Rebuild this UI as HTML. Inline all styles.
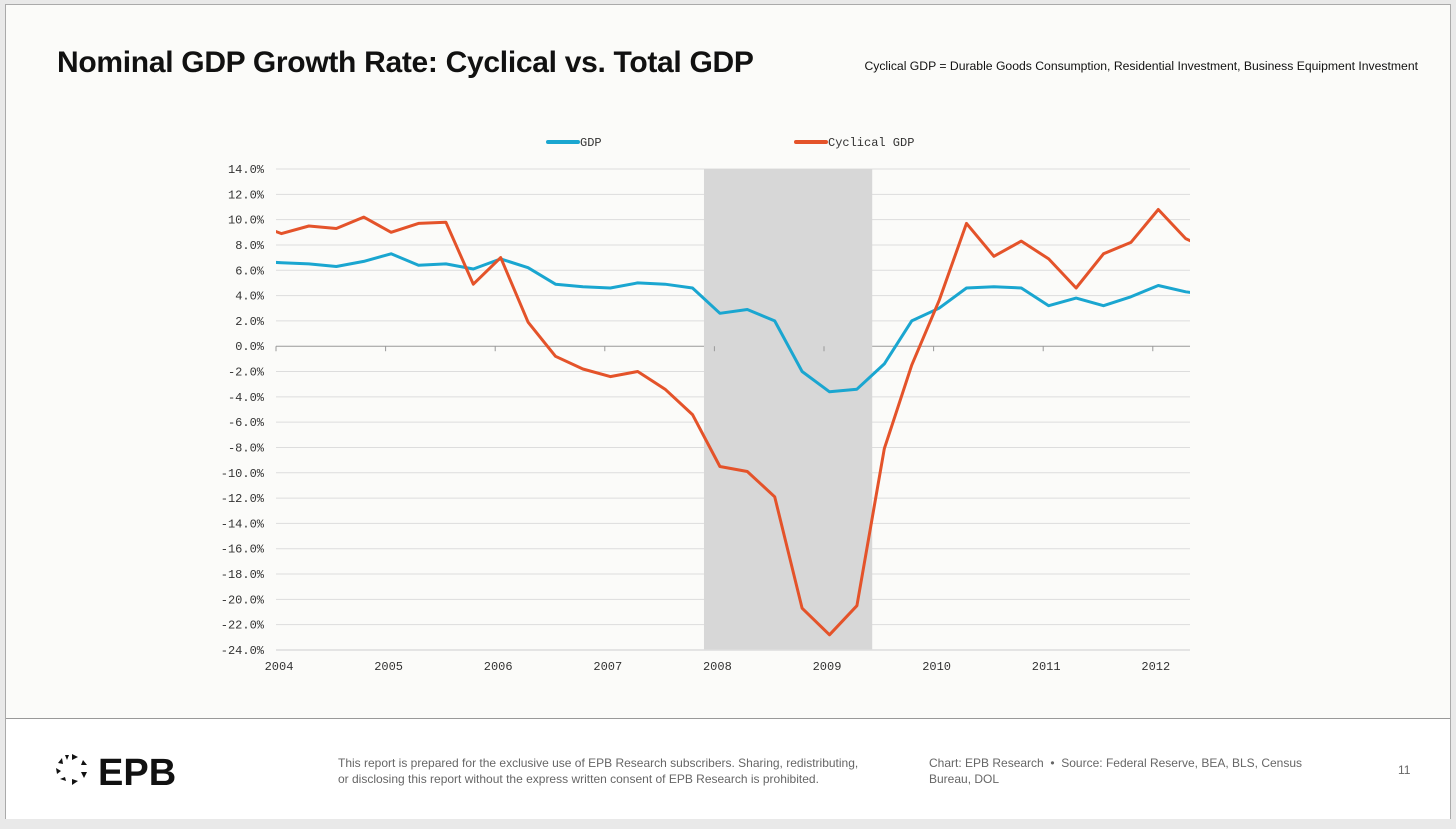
<!DOCTYPE html>
<html><head><meta charset="utf-8">
<style>
html,body{margin:0;padding:0;width:1456px;height:829px;background:#e9e9e9;overflow:hidden;font-family:"Liberation Sans",sans-serif}
#card{position:absolute;left:5px;top:4px;width:1444px;height:813px;background:#fbfbf9;border:1px solid #aaa}
#footer{position:absolute;left:0;top:713px;width:1444px;height:100px;background:#fff;border-top:1px solid #999}
h1{position:absolute;left:51px;top:41px;margin:0;font-size:30px;font-weight:bold;letter-spacing:-0.3px;color:#111}
.note{position:absolute;right:32px;top:54px;font-size:12.2px;color:#111}
.ft{position:absolute;font-size:12px;color:#666;line-height:16px}
svg text{font-family:"Liberation Mono",monospace;font-size:12px;fill:#333}
</style></head><body>
<div id="card">
<h1>Nominal GDP Growth Rate: Cyclical vs. Total GDP</h1>
<div class="note">Cyclical GDP = Durable Goods Consumption, Residential Investment, Business Equipment Investment</div>
<div id="footer">
 <svg style="position:absolute;left:48px;top:33px" width="160" height="40">
  <g fill="#111">
   <polygon points="18,2 24,5 18,8"/><polygon points="29,8 33,13 27,13"/><polygon points="33,20 30,26 27,20"/><polygon points="24,29 18,33 18,27"/>
   <polygon points="12,29 6,27 11,25"/><polygon points="3,22 2,16 7,19"/><polygon points="4,11 8,6 9,12"/><polygon points="11,3 15,3 13,8"/>
  </g>
  <text x="44" y="33" style="font-family:'Liberation Sans',sans-serif;font-size:38px;font-weight:bold;fill:#111">EPB</text>
 </svg>
 <div class="ft" style="left:332px;top:36px">This report is prepared for the exclusive use of EPB Research subscribers. Sharing, redistributing,<br>or disclosing this report without the express written consent of EPB Research is prohibited.</div>
 <div class="ft" style="left:923px;top:36px">Chart: EPB Research &nbsp;•&nbsp; Source: Federal Reserve, BEA, BLS, Census<br>Bureau, DOL</div>
 <div class="ft" style="left:1392px;top:43px">11</div>
</div>
</div>
<svg id="chart" style="position:absolute;left:0;top:0" width="1456" height="700"></svg>
<script>
const yTicks=[14,12,10,8,6,4,2,0,-2,-4,-6,-8,-10,-12,-14,-16,-18,-20,-22,-24];
const years=[2004,2005,2006,2007,2008,2009,2010,2011,2012];
const gdp=[6.7,6.6,6.5,6.3,6.7,7.3,6.4,6.5,6.1,6.9,6.2,4.9,4.7,4.6,5.0,4.9,4.6,2.6,2.9,2.0,-2.0,-3.6,-3.4,-1.4,2.0,3.0,4.6,4.7,4.6,3.2,3.8,3.2,3.9,4.8,4.3,4.0];
const cyc=[9.7,8.9,9.5,9.3,10.2,9.0,9.7,9.8,4.9,7.0,1.9,-0.8,-1.8,-2.4,-2.0,-3.4,-5.4,-9.5,-9.9,-11.9,-20.7,-22.8,-20.5,-8.1,-1.5,3.6,9.7,7.1,8.3,6.9,4.6,7.3,8.2,10.8,8.5,7.5];
const recession=[2007.905,2009.44];
const startYear=2003.8;
const L=276,R=1190,T=169,B=650;
const x=v=>L+(v-2004)*109.6;
const y=v=>T+(14-v)*(B-T)/38;
const svg=document.getElementById('chart');
const NS='http://www.w3.org/2000/svg';
function mk(t,a){const e=document.createElementNS(NS,t);for(const k in a)e.setAttribute(k,a[k]);svg.appendChild(e);return e;}
const cp=mk('clipPath',{id:'clip'});const cr=document.createElementNS(NS,'rect');
cr.setAttribute('x',L);cr.setAttribute('y',T-20);cr.setAttribute('width',R-L);cr.setAttribute('height',B-T+40);cp.appendChild(cr);
yTicks.forEach(t=>{
 const g=mk('line',{x1:L,x2:R,y1:y(t),y2:y(t),stroke:t===0?'#999':'#ddd','stroke-width':1});
 
 
 const tx=mk('text',{x:L-12,y:y(t)+4,'text-anchor':'end'});tx.textContent=t.toFixed(1)+'%';
 
 
});
const rec=mk('rect',{x:x(recession[0]),y:T,width:x(recession[1])-x(recession[0]),height:B-T,fill:'#d7d7d7'});


const ax=mk('line',{x1:L,x2:R,y1:B,y2:B,stroke:'#ddd','stroke-width':1.5});


years.forEach(yr=>{
 const tk=mk('line',{x1:x(yr),x2:x(yr),y1:y(0),y2:y(0)+5,stroke:'#999'});
 
 
 const tx=mk('text',{x:x(yr)+3,y:B+20,'text-anchor':'middle'});tx.textContent=yr;
 
 
});
function series(arr,color,name){
 const d=arr.map((v,i)=>(i?'L':'M')+x(startYear+i*0.25).toFixed(1)+','+y(v).toFixed(1)).join('');
 const p=mk('path',{d:d,fill:'none',stroke:color,'stroke-width':3,'stroke-linejoin':'round','clip-path':'url(#clip)'});
 
 
}
series(gdp,'#1aa6d0','gdp-line');
series(cyc,'#e4532a','cyclical-gdp-line');
function legend(lx,color,label,name){
 const l=mk('line',{x1:lx,x2:lx+30,y1:142,y2:142,stroke:color,'stroke-width':4,'stroke-linecap':'round'});
 
 
 const t=mk('text',{x:lx+32,y:146});t.textContent=label;
 
 
}
legend(548,'#1aa6d0','GDP','legend-gdp');
legend(796,'#e4532a','Cyclical GDP','legend-cyclical-gdp');
</script>
</body></html>
